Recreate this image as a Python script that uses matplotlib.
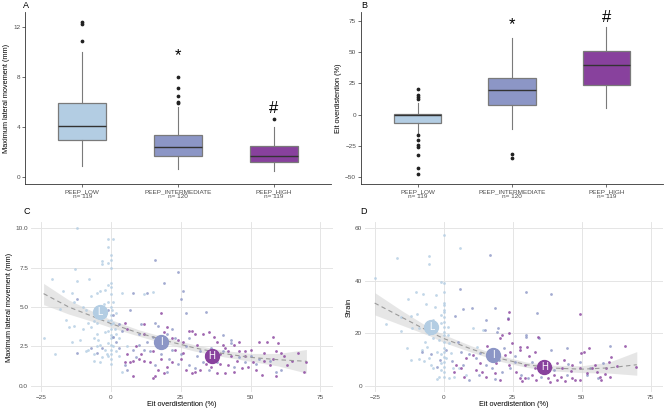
import numpy as np
import matplotlib
matplotlib.use("Agg")
import matplotlib.pyplot as plt

plt.rcParams['font.family'] = ['Liberation Sans', 'DejaVu Sans']

# ---- data ----
groups = ['PEEP_LOW', 'PEEP_INTERMEDIATE', 'PEEP_HIGH']
n_obs = [119, 120, 119]
short = ['L', 'I', 'H']
colors = ['#b3cde3', '#8c96c6', '#88419d']

# panel A: maximum lateral movement (mm) -> q1, median, q3, whisker low, whisker high, outliers
lat_q1 = [2.94, 1.71, 1.23]
lat_med = [4.05, 2.38, 1.66]
lat_q3 = [5.93, 3.34, 2.46]
lat_wlo = [0.91, 0.61, 0.48]
lat_whi = [10.0, 5.64, 4.01]
lat_out = [[10.9, 12.27, 12.38], [5.93, 6.04, 6.5, 7.14, 7.97], [4.63]]
lat_sig = ['', '*', '#']
lat_sig_y = [None, 9.75, 5.5]

# panel B: EIT overdistension (%)
od_q1 = [-6.4, 7.35, 24.0]
od_med = [-0.05, 19.5, 39.3]
od_q3 = [0.2, 29.3, 50.4]
od_wlo = [-14.3, -11.2, 5.0]
od_whi = [9.2, 61.0, 70.2]
od_out = [[20.6, 15.6, 14.2, 12.9, -16.4, -20.1, -24.1, -25.6, -32.3, -42.3, -47.4],
          [-31.5, -34.7], []]
od_sig = ['', '*', '#']
od_sig_y = [None, 71.5, 77.6]

# panel C: overdistension (%) vs lateral movement (mm)
c_low = [(-24, 3.0), (-21, 6.8), (-20, 2.0), (-17, 6.0), (-16, 4.2), (-15, 3.7), (-14, 2.8),
         (-14, 5.9), (-13, 3.8), (-11.9, 10.0), (-12.8, 7.4), (-11.9, 6.65), (-11, 2.9), (-10, 5.0),
         (-9, 4.8), (-7.9, 6.8), (-8, 4.0), (-8, 2.3), (-7, 5.7), (-7, 3.7), (-6, 4.1), (-6, 2.0),
         (-6, 1.6), (-5, 5.9), (-5, 2.5), (-4, 6.0), (-4, 2.6), (-3, 7.9), (-3, 7.75), (-3, 4.5),
         (-3, 1.8), (-2, 6.1), (-2, 3.4), (-2, 2.3), (-0.8, 9.34), (-0.8, 8.8), (-1, 7.8), (-1, 6.4),
         (-1, 5.3), (-1, 4.1), (-1, 3.5), (-1, 2.7), (-1, 1.9), (1.0, 9.34), (0, 8.28), (0, 8.0),
         (0, 7.5), (0, 6.5), (0, 6.25), (0, 5.8), (0, 5.0), (0, 4.5), (0, 4.2), (0, 3.9), (0, 3.6),
         (0, 3.2), (0, 3.0), (0, 2.6), (0, 2.3), (0, 2.0), (0, 1.7), (0, 1.4), (1, 5.3), (1, 4.0),
         (1, 3.1), (1, 2.5), (2, 4.6), (2, 2.2), (3, 3.0), (4.2, 5.9), (4, 0.9), (-4.5, 2.9),
         (-2, 4.4), (-5, 3.3), (-9, 2.2), (12, 5.85), (15.2, 5.95), (-10, 3.6), (-6, 3.0),
         (-2.5, 5.2), (0.5, 4.8), (1.5, 3.6), (-1.5, 2.0), (-4, 1.5), (3, 1.9), (6, 2.5),
         (-18, 4.9), (-13, 5.3), (-5, 4.0), (2, 3.3)]
c_int = [(15.8, 8.0), (24, 7.2), (19, 6.5), (26, 6.0), (25, 5.5), (8.1, 5.9), (13, 5.9), (34, 4.7),
         (27, 4.6), (7, 4.8), (16, 4.0), (17, 3.8), (20, 3.3), (22, 3.6), (23, 3.0), (10, 3.3),
         (13, 2.8), (12, 2.3), (14, 2.2), (18, 2.0), (22, 2.3), (28, 3.0), (25, 2.0), (31, 1.9),
         (33, 1.5), (38, 1.5), (35, 1.0), (40, 3.2), (43, 2.9), (43, 2.7), (50, 1.9), (52, 1.4),
         (57, 1.6), (59, 0.9), (61, 1.0), (-12, 2.1), (-12, 5.5), (-7, 2.4), (-5, 2.1), (-3, 2.4),
         (1, 3.1), (2, 2.8), (3, 2.4), (5, 1.3), (8, 2.3), (9, 1.8), (6, 1.0), (20, 0.9),
         (24, 1.4), (28, 1.3), (30, 1.1), (37, 1.9), (40, 2.2), (46, 1.8), (53, 1.7), (-1, 4.8),
         (1, 4.5), (3, 3.9), (11, 3.9), (15, 3.1), (19, 2.6), (27, 2.5), (32, 2.2), (36, 2.4),
         (44, 1.2), (48, 1.5), (21, 1.7), (16, 1.3), (4, 3.5), (10, 2.6)]
c_high = [(5, 4.0), (6, 3.6), (12, 3.9), (12, 3.3), (18, 4.6), (19, 3.4), (20, 3.7), (22, 3.0),
          (24, 2.9), (26, 2.8), (28, 3.5), (29, 3.5), (30, 3.3), (33, 3.3), (35, 3.4), (38, 2.8),
          (40, 2.6), (41, 2.4), (42, 2.2), (44, 2.6), (46, 2.8), (48, 2.2), (50, 2.3), (53, 2.8),
          (56, 2.8), (58, 3.1), (59, 2.2), (60, 2.7), (61, 2.1), (67, 2.1), (70, 1.5), (69, 0.9),
          (65, 1.6), (62, 1.9), (58, 1.7), (55, 1.6), (52, 1.0), (54, 0.7), (59, 0.6), (57, 1.3),
          (49, 1.2), (47, 1.1), (44, 0.9), (41, 0.8), (38, 0.8), (36, 1.2), (34, 1.4), (32, 1.0),
          (30, 0.9), (29, 0.8), (27, 1.0), (25, 1.7), (22, 1.5), (20, 1.2), (19, 0.8), (17, 1.0),
          (16, 0.6), (15, 0.5), (14, 1.5), (12, 1.6), (10, 1.7), (8, 1.6), (7, 1.5), (5, 1.5),
          (6, 2.0), (9, 2.5), (11, 2.0), (15, 2.2), (18, 1.7), (23, 2.3), (26, 2.1), (31, 2.6),
          (34, 2.0), (36, 1.7), (39, 1.4), (42, 1.3), (45, 1.6), (48, 1.9), (51, 1.5), (8, 0.6),
          (37, 3.1), (39, 2.0), (43, 1.9), (46, 2.2), (55, 2.1), (63, 1.3)]
c_means = [(-3.9, 4.66), (18.1, 2.75), (36.3, 1.86)]
c_fit_x = [-24, -15, -5, 0, 10, 20, 30, 40, 50, 60, 70]
c_fit_y = [5.85, 5.0, 4.3, 3.95, 3.35, 2.85, 2.4, 2.05, 1.8, 1.65, 1.55]
c_fit_lo = [5.15, 4.55, 4.0, 3.7, 3.15, 2.65, 2.2, 1.85, 1.55, 1.25, 0.8]
c_fit_hi = [6.5, 5.45, 4.6, 4.2, 3.55, 3.05, 2.6, 2.25, 2.05, 2.05, 2.3]

# panel D: overdistension (%) vs strain
d_low = [(-24.8, 41.2), (-17, 48.8), (-5.3, 49.6), (-5.3, 46.3), (0, 57.4), (-1, 39.6), (-10, 35.8),
         (-7.3, 35), (-13, 33), (-6.5, 31), (-3, 29.9), (-2.6, 34.6), (0, 39), (0, 35.8), (0, 31.4),
         (0, 30.7), (0, 28.8), (0, 28), (0, 26.3), (0, 24.4), (0, 22.5), (0, 20.6), (0, 19.3),
         (0, 16.8), (0, 14.2), (0, 13), (0, 11), (0, 9.1), (0, 7.2), (0, 5.3), (0, 3.4), (-21, 23.5),
         (-15.4, 26), (-12, 26.4), (-15.6, 20.8), (-11.5, 21.9), (-8.8, 21.9), (-13.3, 14.2),
         (-12, 9.8), (-8.8, 10.2), (-8, 13.6), (-5.9, 14.9), (-5.2, 10.4), (-4.6, 7.9), (-3.8, 6.6),
         (-2.3, 13), (-1.7, 3.4), (-2.4, 2.4), (1.5, 22.5), (1.5, 19.3), (2.1, 16.1), (2.7, 12.3),
         (3.3, 6.6), (3.9, 3.4), (5.7, 6.6), (8, 4.1), (10.8, 21.9), (14.2, 21.2), (12.2, 14.9),
         (-3.8, 18), (-5.3, 19.6), (-6.8, 16.8), (5.8, 52.3), (-1, 27), (-1, 24), (-1.5, 17.5),
         (-1, 12), (-1, 8.5), (-1, 5.8), (1, 10.5), (-9.5, 27.5), (-4, 25), (-7, 9.5), (2, 2.8)]
d_int = [(16.8, 50), (30, 35.8), (39, 35), (33.8, 27.8), (34.7, 18.3), (5.9, 36.7), (6.9, 29.1),
         (10.1, 29.5), (18.7, 29.5), (19.8, 21.9), (19.5, 20.6), (15.2, 25), (15, 21.2), (23.5, 25.7),
         (30, 19.3), (29.9, 18.7), (5.1, 16.8), (6.3, 13), (9.2, 11.9), (11.6, 10.4), (15.2, 7.9),
         (17.5, 6.6), (21, 5.3), (24, 6.6), (25.8, 9.1), (28.2, 4.1), (30.6, 2.8), (35.3, 3.4),
         (39, 13.6), (40, 6), (44.8, 4.1), (49.5, 9.1), (53, 6.6), (57.8, 8.5), (9.2, 2.2),
         (12.8, 4.1), (18.7, 2.4), (-1.4, 9.8), (-2.4, 7.2), (-8, 13), (44.8, 14.5), (60.4, 15.1),
         (3, 9.5), (7, 8), (13, 12.5), (20, 9.8), (26, 11.5), (32, 9), (36, 5.2), (45, 8.2),
         (52, 4.2), (56, 2.9), (-4.5, 12), (4, 26.5), (1, 13.8), (22, 14.5)]
d_high = [(49.5, 27.2), (23.8, 28), (23.5, 25.4), (20.4, 18), (21, 19.3), (23.8, 19.9), (24.8, 16.1),
          (27.7, 14.9), (30.3, 14.9), (34.3, 18.7), (27.6, 13.6), (22.3, 11.7), (24, 13), (18.7, 13.6),
          (16.4, 10.4), (10.5, 11.7), (8, 10.4), (4.5, 7.9), (3.9, 5.3), (6.3, 6.6), (7.5, 3.4),
          (11.6, 6), (14, 5.3), (15.4, 3.4), (18.7, 4.7), (20.5, 2.2), (23.8, 7.9), (26.1, 5.3),
          (27.6, 3), (29.6, 3), (31.9, 4.1), (33.6, 2.2), (37.7, 2.8), (40, 4.1), (41.2, 2.2),
          (42.4, 3.4), (43.6, 9.8), (46.5, 3), (47.7, 2.2), (49.5, 2.2), (49.8, 12.3), (50.7, 13),
          (52.7, 14.3), (51.9, 4.7), (53.7, 6.6), (55.5, 5.3), (56.6, 3.4), (57.2, 2.2), (59, 6.6),
          (60, 9.1), (60.8, 11), (65.7, 15), (69.7, 7.2), (60.2, 3.4), (54.9, 7.9), (49.5, 6.6),
          (46.5, 7.9), (42.9, 6.6), (41.2, 8.5), (35.3, 6.6), (33, 6.6), (29.4, 7.9), (33, 13),
          (15.8, 15.1), (38.5, 1.5), (44, 1.8), (36, 9.5), (31, 11.2), (19, 8.8), (13, 8.5),
          (28.5, 1.8), (58.5, 4.5), (63, 7.5), (46, 5.5)]
d_means = [(-4.4, 22.5), (17.9, 11.7), (36.5, 7.0)]
d_fit_x = [-25, -15, -5, 0, 10, 20, 30, 40, 50, 60, 70]
d_fit_y = [31.5, 26.0, 20.5, 18.0, 14.0, 10.5, 8.0, 6.7, 6.3, 6.8, 8.0]
d_fit_lo = [27.0, 23.0, 19.0, 16.5, 12.8, 9.4, 7.0, 5.6, 5.0, 4.8, 4.0]
d_fit_hi = [35.5, 28.5, 22.0, 19.5, 15.2, 11.6, 9.0, 7.8, 7.6, 9.0, 13.0]

W, H = 669, 413
fig = plt.figure(figsize=(W / 100, H / 100), dpi=100)


def frac(l, t, r, b):
    return [l / W, 1 - b / H, (r - l) / W, (b - t) / H]


def letter(x, y, s):
    fig.text(x / W, 1 - y / H, s, fontsize=6.5, ha='left', va='center')


tick_col = '#4d4d4d'
xlabels = [f'{g}\nn= {n}' for g, n in zip(groups, n_obs)]


def box_panel(ax, q1, med, q3, wlo, whi, out, sig, sig_y, ylim, yticks, ylabel):
    stats = [dict(q1=a, med=b, q3=c, whislo=d, whishi=e, fliers=f)
             for a, b, c, d, e, f in zip(q1, med, q3, wlo, whi, out)]
    bp = ax.bxp(stats, positions=[1, 2, 3], widths=0.5, patch_artist=True,
                boxprops=dict(edgecolor='#7a7a7a', linewidth=0.9),
                medianprops=dict(color='#333333', linewidth=1.0),
                whiskerprops=dict(color='#7a7a7a', linewidth=0.8),
                capprops=dict(linewidth=0),
                flierprops=dict(marker='o', markersize=1.7, markerfacecolor='#222222',
                                markeredgecolor='#222222'))
    for patch, c in zip(bp['boxes'], colors):
        patch.set_facecolor(c)
    for i, (s, sy) in enumerate(zip(sig, sig_y)):
        if s:
            ax.text(i + 1, sy, s, ha='center', va='center', fontsize=12)
    ax.set_xlim(0.4, 3.6)
    ax.set_ylim(*ylim)
    ax.set_yticks(yticks)
    ax.set_xticks([1, 2, 3])
    ax.set_xticklabels(xlabels, fontsize=4.6, color=tick_col, linespacing=1.15)
    ax.tick_params(axis='y', labelsize=4.6, labelcolor=tick_col)
    ax.tick_params(length=2, width=0.5, color='#333333', pad=1.5)
    for s in ['top', 'right']:
        ax.spines[s].set_visible(False)
    for s in ['left', 'bottom']:
        ax.spines[s].set_color('#333333')
        ax.spines[s].set_linewidth(0.6)
    ax.set_ylabel(ylabel, fontsize=5.3, labelpad=2)


def scatter_panel(ax, pts_list, means, fx, fy, flo, fhi, ylim, yticks, yfmt, ylabel):
    ax.fill_between(fx, flo, fhi, color='#d6d6d6', alpha=0.6, linewidth=0, zorder=1)
    for pts, c in zip(pts_list, colors):
        p = np.array(pts)
        ax.scatter(p[:, 0], p[:, 1], s=4, color=c, alpha=0.8, linewidths=0, zorder=2)
    ax.plot(fx, fy, color='#9a9a9a', linestyle=(0, (4, 3)), linewidth=0.8, zorder=3)
    for (mx, my), c, lab in zip(means, colors, short):
        ax.plot(mx, my, 'o', markersize=10, color=c, zorder=4)
        ax.text(mx, my, lab, color='white', fontsize=7, ha='center', va='center', zorder=5)
    ax.set_xlim(-28.5, 79.5)
    ax.set_ylim(*ylim)
    ax.set_xticks([-25, 0, 25, 50, 75])
    ax.set_yticks(yticks)
    ax.set_yticklabels([yfmt.format(v) for v in yticks])
    ax.grid(True, color='#e5e5e5', linewidth=0.7)
    ax.set_axisbelow(True)
    for s in ax.spines.values():
        s.set_visible(False)
    ax.tick_params(length=0, labelsize=4.6, labelcolor=tick_col, pad=2)
    ax.set_xlabel('Eit overdistention (%)', fontsize=5.3, labelpad=1)
    ax.set_ylabel(ylabel, fontsize=5.3, labelpad=2)


axA = fig.add_axes(frac(25, 12, 331, 184))
box_panel(axA, lat_q1, lat_med, lat_q3, lat_wlo, lat_whi, lat_out, lat_sig, lat_sig_y,
          (-0.56, 13.2), [0, 4, 8, 12], 'Maximum lateral movement (mm)')
letter(23, 5, 'A')

axB = fig.add_axes(frac(361, 12, 663, 184))
box_panel(axB, od_q1, od_med, od_q3, od_wlo, od_whi, od_out, od_sig, od_sig_y,
          (-55.3, 81.9), [-50, -25, 0, 25, 50, 75], 'Eit overdistention (%)')
letter(361, 5, 'B')

axC = fig.add_axes(frac(31, 222, 333, 392))
scatter_panel(axC, [c_low, c_int, c_high], c_means, c_fit_x, c_fit_y, c_fit_lo, c_fit_hi,
              (-0.4, 10.4), [0, 2.5, 5, 7.5, 10], '{:.1f}', 'Maximum lateral movement (mm)')
letter(24, 211, 'C')

axD = fig.add_axes(frac(365, 222, 663, 392))
scatter_panel(axD, [d_low, d_int, d_high], d_means, d_fit_x, d_fit_y, d_fit_lo, d_fit_hi,
              (-2.4, 62.4), [0, 20, 40, 60], '{:.0f}', 'Strain')
letter(360, 211, 'D')

fig.savefig('out.png', dpi=100)
